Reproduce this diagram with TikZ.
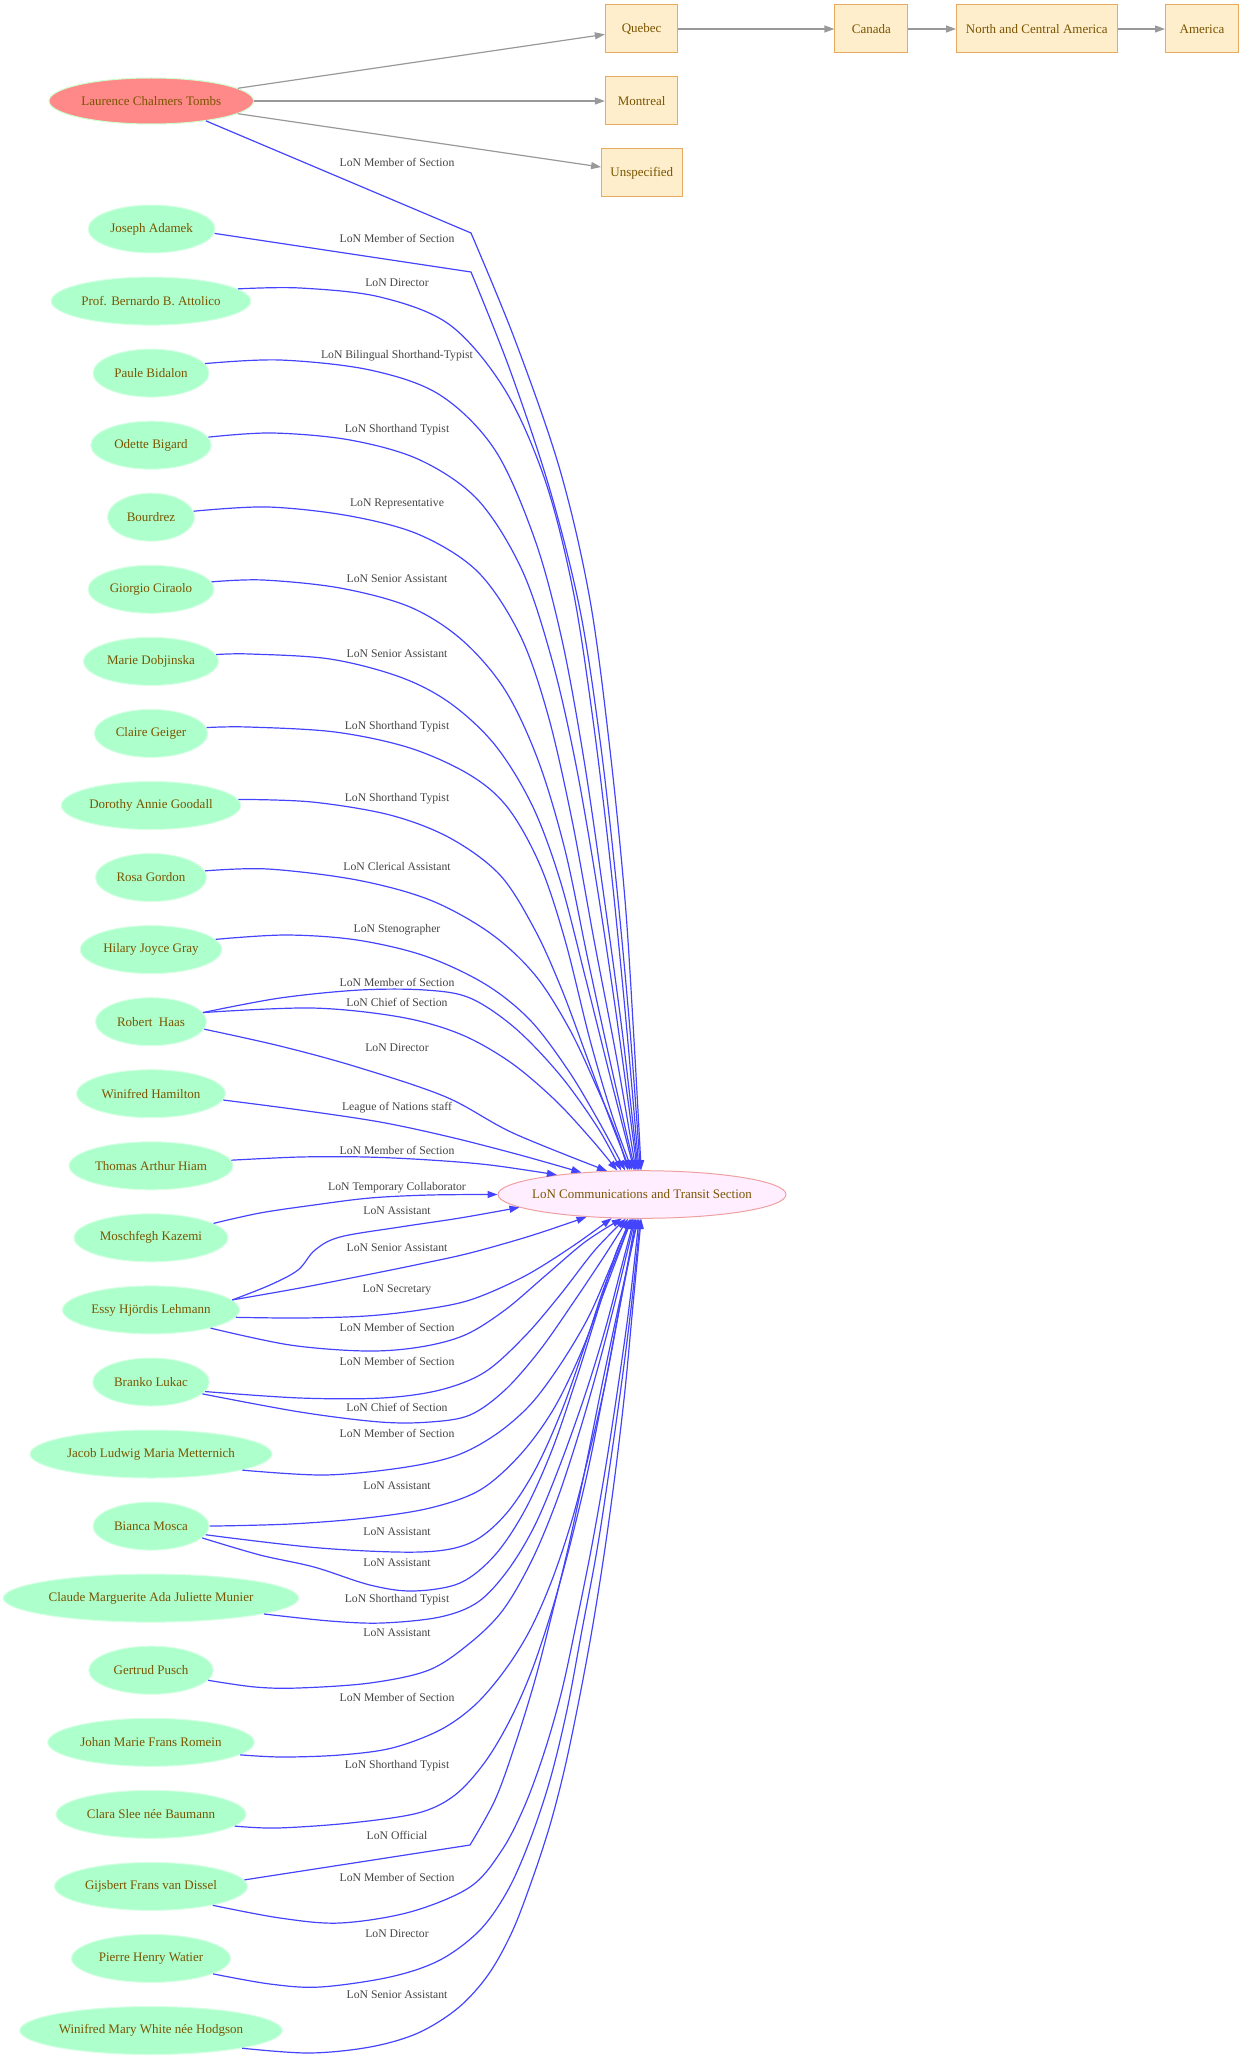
\documentclass[tikz,border=0pt]{standalone}
\usepackage{fontspec}
\setmainfont{Liberation Serif}
\usetikzlibrary{shapes.geometric,arrows.meta}
\definecolor{edgeblue}{HTML}{4444FF}
\definecolor{edgegray}{HTML}{999999}
\definecolor{txt}{HTML}{7A5500}
\definecolor{labtxt}{HTML}{444444}
\definecolor{personfill}{HTML}{ADFFCC}
\definecolor{persondraw}{HTML}{D8FFE6}
\definecolor{tombsfill}{HTML}{FF8888}
\definecolor{tombsdraw}{HTML}{CCFFCC}
\definecolor{secfill}{HTML}{FFEEFF}
\definecolor{secdraw}{HTML}{EEA0A0}
\definecolor{placefill}{HTML}{FFEECC}
\definecolor{placedraw}{HTML}{E8AA60}
\tikzset{
  nfont/.style={font=\fontsize{13}{15}\selectfont},
  person/.style={ellipse, fill=personfill, draw=persondraw, line width=1pt, minimum height=48pt, inner sep=0pt, text=txt, nfont},
  tombsnode/.style={person, fill=tombsfill, draw=tombsdraw, minimum height=46pt},
  section/.style={ellipse, fill=secfill, draw=secdraw, line width=1pt, minimum width=288pt, minimum height=47.6pt, inner xsep=-20pt, inner ysep=0pt, text=txt, nfont},
  place/.style={rectangle, fill=placefill, draw=placedraw, line width=1pt, minimum height=48pt, inner sep=0pt, text=txt, nfont},
  lab/.style={text=labtxt, font=\fontsize{11.7}{13}\selectfont, inner sep=0pt},
  bl/.style={draw=edgeblue, line width=1.2pt, -{Triangle[length=10pt,width=7pt]}},
  gr/.style={draw=edgegray, line width=1.2pt, -{Triangle[length=10pt,width=7pt]}},
  sm/.style={smooth, tension=0.55},
}
\begin{document}
\begin{tikzpicture}[x=1pt,y=-1pt]
\useasboundingbox (0,0) rectangle (1244,2060);
% places
\node[place, minimum width=72.4pt] (quebec) at (641.6,29) {Quebec};
\node[place, minimum width=72.4pt] (montreal) at (641.6,101) {Montreal};
\node[place, minimum width=80.4pt] (unspec) at (641.8,173) {Unspecified};
\node[place, minimum width=73pt] (canada) at (871.4,29) {Canada};
\node[place, minimum width=160.5pt] (nca) at (1036.8,29) {North and Central America};
\node[place, minimum width=73pt] (america) at (1202,29) {America};
% people
\node[tombsnode, minimum width=204.6pt] (tombs) at (151.3,101) {Laurence Chalmers Tombs};
\node[person, minimum width=127pt] (adamek) at (151.6,229) {Joseph Adamek};
\node[person, minimum width=199.6pt] (attolico) at (151,301.1) {Prof. Bernardo B. Attolico};
\node[person, minimum width=116pt] (bidalon) at (151,373.1) {Paule Bidalon};
\node[person, minimum width=120.5pt] (bigard) at (151,445.2) {Odette Bigard};
\node[person, minimum width=87pt] (bourdrez) at (151,517.2) {Bourdrez};
\node[person, minimum width=126pt] (ciraolo) at (151,589.3) {Giorgio Ciraolo};
\node[person, minimum width=134.8pt] (dobjinska) at (151,661.4) {Marie Dobjinska};
\node[person, minimum width=113.4pt] (geiger) at (151,733.4) {Claire Geiger};
\node[person, minimum width=179.5pt] (goodall) at (151,805.5) {Dorothy Annie Goodall};
\node[person, minimum width=111pt] (gordon) at (151,877.5) {Rosa Gordon};
\node[person, minimum width=141.5pt] (gray) at (151,949.6) {Hilary Joyce Gray};
\node[person, minimum width=111pt] (haas) at (151,1021.7) {Robert~ Haas};
\node[person, minimum width=148.7pt] (hamilton) at (151,1093.7) {Winifred Hamilton};
\node[person, minimum width=164pt] (hiam) at (151,1165.8) {Thomas Arthur Hiam};
\node[person, minimum width=154pt] (kazemi) at (151,1237.8) {Moschfegh Kazemi};
\node[person, minimum width=177pt] (lehmann) at (151,1309.9) {Essy Hjördis Lehmann};
\node[person, minimum width=116.6pt] (lukac) at (151,1382) {Branko Lukac};
\node[person, minimum width=242pt] (metternich) at (151,1454) {Jacob Ludwig Maria Metternich};
\node[person, minimum width=116pt] (mosca) at (151,1526.1) {Bianca Mosca};
\node[person, minimum width=295.6pt] (munier) at (151,1598.1) {Claude Marguerite Ada Juliette Munier};
\node[person, minimum width=124.5pt] (pusch) at (151,1670.2) {Gertrud Pusch};
\node[person, minimum width=206.6pt] (romein) at (151,1742.3) {Johan Marie Frans Romein};
\node[person, minimum width=190pt] (slee) at (151,1814.3) {Clara Slee née Baumann};
\node[person, minimum width=193pt] (vandissel) at (151,1886.4) {Gijsbert Frans van Dissel};
\node[person, minimum width=159pt] (watier) at (151,1958.4) {Pierre Henry Watier};
\node[person, minimum width=262.5pt] (white) at (151,2030.5) {Winifred Mary White née Hodgson};
% target
\node[section] (lcts) at (642,1194.5) {LoN Communications and Transit Section};
% gray edges
\draw[gr] (tombs) -- (quebec);
\draw[gr] (tombs) -- (montreal);
\draw[gr] (tombs) -- (unspec);
\draw[gr] (quebec) -- (canada);
\draw[gr] (canada) -- (nca);
\draw[gr] (nca) -- (america);
% blue edges, upper sources
\draw[bl] (tombs.-20.6) -- plot[sm] coordinates {(471,233) (515,340) (560,470) (590,600) (610,750) (625,900) (634,1040) (lcts.92.4)};
\draw[bl] (adamek.-4.5) -- plot[sm] coordinates {(471,272) (510,370) (550,490) (580,610) (600,740) (616,880) (630,1030) (lcts.94.8)};
\draw[bl] plot[sm] coordinates {(attolico.8.7) (300,288) (380,297) (450,325) (505,390) (545,480) (573,590) (593,720) (610,860) (625,1010) (lcts.97.2)};
\draw[bl] plot[sm] coordinates {(bidalon.10.2) (280,360) (370,370) (440,395) (495,450) (535,540) (562,640) (584,760) (603,890) (622,1030) (lcts.99.5)};
\draw[bl] plot[sm] coordinates {(bigard.8.8) (272,433) (350,440) (420,460) (478,500) (522,570) (552,660) (575,760) (596,880) (617,1020) (lcts.101.9)};
\draw[bl] plot[sm] coordinates {(bourdrez.8.8) (268,507) (350,516) (420,535) (478,572) (520,635) (548,715) (572,820) (594,940) (617,1060) (lcts.104.1)};
\draw[bl] plot[sm] coordinates {(ciraolo.7.3) (263,580) (340,588) (410,607) (462,640) (505,690) (538,760) (565,850) (588,960) (612,1070) (lcts.106.4)};
\draw[bl] plot[sm] coordinates {(dobjinska.6.9) (250,654) (330,659) (400,677) (450,703) (495,745) (532,805) (560,880) (586,980) (611,1080) (lcts.108.6)};
\draw[bl] plot[sm] coordinates {(geiger.6.2) (248,727) (335,732) (410,748) (470,775) (508,808) (540,865) (565,940) (590,1040) (612,1115) (lcts.112.8)};
\draw[bl] plot[sm] coordinates {(goodall.4.8) (312,802) (390,815) (450,838) (500,875) (535,930) (562,990) (588,1060) (611,1122) (lcts.116.6)};
\draw[bl] plot[sm] coordinates {(gordon.7.3) (268,869) (357,880) (430,900) (490,933) (535,975) (570,1030) (598,1090) (617,1135) (lcts.120.3)};
\draw[bl] plot[sm] coordinates {(gray.9.7) (286,935) (357,940) (425,956) (485,984) (530,1020) (568,1070) (598,1120) (lcts.125.4)};
\draw[bl] plot[sm] coordinates {(haas.10.5) (280,998) (360,990) (425,990) (470,998) (515,1028) (560,1075) (598,1128) (lcts.131.2)};
\draw[bl] plot[sm] coordinates {(haas.10.5) (312,1008) (400,1017) (460,1034) (510,1062) (555,1100) (592,1140) (lcts.136.2)};
\draw[bl] plot[sm] coordinates {(haas.-8.5) (280,1046) (357,1067) (446,1097) (513,1133) (lcts.146.6)};
\draw[bl] plot[sm] coordinates {(hamilton.-5.6) (300,1110) (380,1122) (450,1137) (520,1155) (lcts.160.9)};
\draw[bl] plot[sm] coordinates {(hiam.4.8) (300,1157) (366,1157) (430,1160) (490,1165) (lcts.167.3)};
\draw[bl] plot[sm] coordinates {(kazemi.13.6) (260,1213) (314,1205) (370,1198) (430,1195) (lcts.180)};
% blue edges, lower sources
\draw[bl] plot[sm] coordinates {(lehmann.7.6) (270,1285) (298,1270) (315,1250) (340,1237) (400,1227) (460,1218) (lcts.186.9)};
\draw[bl] plot[sm] coordinates {(lehmann.7.6) (300,1288) (366,1275) (420,1264) (470,1253) (530,1236) (lcts.-158.6)};
\draw[bl] plot[sm] coordinates {(lehmann.-5.1) (300,1318) (366,1316) (420,1310) (470,1300) (523,1277) (570,1248) (lcts.-142.2)};
\draw[bl] plot[sm] coordinates {(lehmann.-17.4) (290,1345) (366,1351) (420,1347) (465,1335) (505,1310) (545,1276) (585,1242) (lcts.-130.3)};
\draw[bl] plot[sm] coordinates {(lukac.-10) (300,1398) (382,1398) (440,1390) (485,1372) (525,1336) (560,1295) (595,1250) (lcts.-124.1)};
\draw[bl] plot[sm] coordinates {(lukac.-13.2) (300,1412) (380,1422) (430,1422) (470,1415) (505,1390) (540,1350) (575,1300) (605,1255) (lcts.-120.3)};
\draw[bl] plot[sm] coordinates {(metternich.-10.3) (324,1475) (400,1468) (455,1456) (495,1435) (530,1405) (560,1365) (588,1318) (610,1268) (lcts.-116.6)};
\draw[bl] plot[sm] coordinates {(mosca.0) (290,1524) (366,1518) (430,1508) (480,1490) (520,1455) (553,1410) (580,1355) (603,1295) (620,1250) (lcts.-114.8)};
\draw[bl] plot[sm] coordinates {(mosca.-9.7) (320,1548) (420,1552) (470,1543) (505,1515) (535,1470) (562,1410) (585,1345) (605,1285) (lcts.-112.8)};
\draw[bl] plot[sm] coordinates {(mosca.-13.3) (260,1555) (314,1567) (370,1585) (413,1591) (460,1583) (495,1555) (525,1510) (552,1450) (576,1380) (598,1310) (617,1250) (lcts.-110.7)};
\draw[bl] plot[sm] coordinates {(munier.-8.3) (330,1621) (382,1623) (440,1617) (478,1602) (508,1570) (535,1525) (560,1465) (585,1395) (605,1330) (622,1265) (lcts.-108.6)};
\draw[bl] plot[sm] coordinates {(pusch.-10.9) (255,1687) (298,1688) (370,1683) (429,1670) (470,1643) (503,1610) (532,1560) (557,1500) (580,1430) (600,1360) (618,1290) (lcts.-106.4)};
\draw[bl] plot[sm] coordinates {(romein.-8.4) (282,1757) (340,1755) (392,1748) (440,1730) (475,1705) (505,1670) (530,1630) (552,1580) (572,1520) (590,1450) (606,1380) (621,1300) (lcts.-104.1)};
\draw[bl] plot[sm] coordinates {(slee.-8.6) (277,1828) (350,1823) (418,1813) (455,1795) (485,1762) (510,1720) (532,1670) (552,1610) (570,1545) (588,1470) (604,1390) (620,1305) (lcts.-101.9)};
\draw[bl] (vandissel.4.9) -- plot[sm] coordinates {(470,1845) (495,1800) (515,1745) (535,1680) (553,1610) (570,1540) (587,1460) (603,1380) (620,1300) (lcts.-99.5)};
\draw[bl] plot[sm] coordinates {(vandissel.-17.3) (280,1918) (340,1923) (410,1912) (470,1887) (502,1850) (525,1805) (545,1750) (562,1690) (577,1620) (592,1545) (606,1465) (619,1380) (630,1300) (lcts.-97.2)};
\draw[bl] plot[sm] coordinates {(watier.-14.3) (270,1984) (320,1987) (390,1977) (440,1960) (480,1930) (508,1890) (530,1840) (550,1780) (567,1710) (582,1630) (597,1550) (610,1465) (622,1380) (632,1300) (lcts.-94.8)};
\draw[bl] plot[sm] coordinates {(white.-11) (309,2053) (370,2047) (418,2033) (458,2008) (488,1975) (512,1932) (532,1880) (550,1825) (565,1767) (579,1700) (592,1630) (604,1555) (615,1475) (625,1390) (633,1305) (lcts.-92.4)};
% edge labels
\node[lab] (l01) at (397,162.7) {LoN Member of Section};
\node[lab] (l02) at (397,238.3) {LoN Member of Section};
\node[lab] (l03) at (397,282.7) {LoN Director};
\node[lab] (l04) at (397,355.7) {LoN Bilingual Shorthand-Typist};
\node[lab] (l05) at (397,429.7) {LoN Shorthand Typist};
\node[lab] (l06) at (397,503.7) {LoN Representative};
\node[lab] (l07) at (397,578.7) {LoN Senior Assistant};
\node[lab] (l08) at (397,653.7) {LoN Senior Assistant};
\node[lab] (l09) at (397,726.7) {LoN Shorthand Typist};
\node[lab] (l10) at (397,798.7) {LoN Shorthand Typist};
\node[lab] (l11) at (397,866.7) {LoN Clerical Assistant};
\node[lab] (l12) at (397,929.7) {LoN Stenographer};
\node[lab] (l13) at (397,982.7) {LoN Member of Section};
\node[lab] (l14) at (397,1002.7) {LoN Chief of Section};
\node[lab] (l15) at (397,1047.7) {LoN Director};
\node[lab] (l16) at (397,1107.3) {League of Nations staff};
\node[lab] (l17) at (397,1150.7) {LoN Member of Section};
\node[lab] (l18) at (397,1187.7) {LoN Temporary Collaborator};
\node[lab] (l19) at (397,1210.7) {LoN Assistant};
\node[lab] (l20) at (397,1247.7) {LoN Senior Assistant};
\node[lab] (l21) at (397,1290) {LoN Secretary};
\node[lab] (l22) at (397,1327.7) {LoN Member of Section};
\node[lab] (l23) at (397,1361.7) {LoN Member of Section};
\node[lab] (l24) at (397,1407.7) {LoN Chief of Section};
\node[lab] (l25) at (397,1433.7) {LoN Member of Section};
\node[lab] (l26) at (397,1485.7) {LoN Assistant};
\node[lab] (l27) at (397,1531.7) {LoN Assistant};
\node[lab] (l28) at (397,1562.7) {LoN Assistant};
\node[lab] (l29) at (397,1600) {LoN Shorthand Typist};
\node[lab] (l30) at (397,1633) {LoN Assistant};
\node[lab] (l31) at (397,1697.7) {LoN Member of Section};
\node[lab] (l32) at (397,1765.7) {LoN Shorthand Typist};
\node[lab] (l33) at (397,1835.7) {LoN Official};
\node[lab] (l34) at (397,1877.7) {LoN Member of Section};
\node[lab] (l35) at (397,1933.7) {LoN Director};
\node[lab] (l36) at (397,1994.7) {LoN Senior Assistant};
\end{tikzpicture}
\end{document}
